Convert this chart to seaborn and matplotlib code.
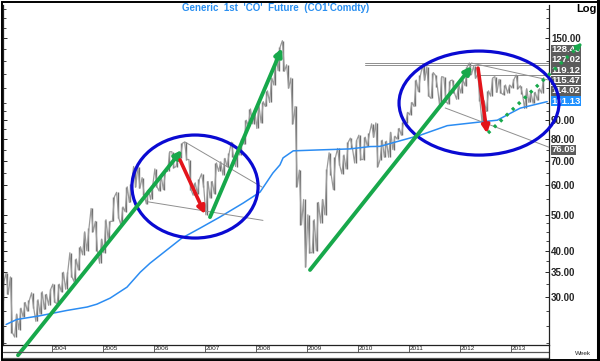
import numpy as np
import pandas as pd
import matplotlib
matplotlib.use("Agg")
import matplotlib.pyplot as plt
import seaborn as sns
from matplotlib.patches import Ellipse, Rectangle
from matplotlib.lines import Line2D
from matplotlib.ticker import FixedLocator, FuncFormatter, NullFormatter
import matplotlib.transforms as mtrans

# ---------------- data ----------------
title = "Generic  1st  'CO'  Future  (CO1'Comdty)"
first_year = 2003
# monthly high / low, Jan 2003 .. Aug 2013
monthly_high = [
    33.0, 34.8, 34.0, 27.0, 28.0, 29.0, 29.5, 30.8, 29.5, 31.0, 30.5, 31.5,   # 2003
    32.5, 32.5, 35.0, 35.0, 39.5, 38.0, 41.0, 45.0, 46.0, 52.0, 48.0, 43.0,   # 2004
    48.5, 48.0, 56.0, 57.5, 52.5, 59.5, 60.5, 67.5, 67.5, 63.0, 58.5, 60.0,   # 2005
    66.5, 63.5, 65.5, 74.0, 74.0, 73.0, 78.0, 78.6, 70.5, 61.0, 62.5, 64.5,   # 2006
    61.5, 61.5, 69.0, 69.5, 71.0, 73.5, 78.5, 75.0, 80.0, 90.0, 96.5, 96.0,   # 2007
    98.5, 101.0, 108.0, 117.0, 136.0, 142.0, 147.5, 127.0, 117.0, 98.0, 66.0, 55.0,  # 2008
    50.0, 48.5, 54.0, 55.0, 66.5, 73.5, 71.5, 75.5, 72.5, 78.5, 80.5, 79.5,   # 2009
    82.0, 81.0, 83.0, 88.0, 88.5, 79.5, 79.0, 83.5, 81.5, 85.5, 89.0, 94.5,   # 2010
    100.5, 115.5, 119.0, 127.0, 125.5, 121.0, 119.0, 118.0, 117.5, 115.0, 115.5, 112.5,  # 2011
    115.5, 125.5, 128.4, 126.0, 120.0, 101.5, 108.0, 117.0, 118.0, 116.0, 112.0, 112.0,  # 2012
    116.0, 119.2, 111.5, 109.5, 106.5, 107.0, 109.5, 117.3,                     # 2013
]
monthly_low = [
    29.5, 30.5, 24.0, 23.4, 24.5, 26.5, 27.5, 28.0, 25.8, 27.0, 27.8, 28.5,
    29.0, 28.8, 31.0, 31.5, 34.0, 33.0, 35.5, 39.0, 40.0, 45.0, 40.0, 37.0,
    39.5, 43.0, 48.0, 49.0, 47.0, 51.0, 54.0, 59.5, 59.0, 56.5, 53.5, 55.0,
    59.5, 58.0, 58.5, 65.5, 67.0, 67.5, 71.0, 70.5, 58.5, 56.5, 57.0, 59.5,
    50.0, 55.5, 57.0, 65.5, 64.0, 67.5, 71.5, 67.5, 72.5, 77.5, 87.0, 88.0,
    85.5, 88.5, 98.0, 100.5, 112.0, 122.5, 122.0, 110.0, 88.0, 59.5, 47.0, 36.2,
    39.5, 39.5, 40.0, 47.5, 50.0, 64.0, 58.5, 68.0, 64.5, 66.5, 75.5, 69.0,
    70.5, 70.5, 76.5, 81.0, 67.5, 70.5, 71.5, 71.5, 75.0, 80.0, 82.0, 88.5,
    93.0, 98.0, 107.5, 115.5, 104.5, 103.0, 110.5, 98.5, 101.0, 99.5, 106.5, 102.5,
    106.5, 111.5, 119.5, 117.0, 101.5, 88.5, 95.0, 104.5, 107.0, 106.5, 105.5, 106.5,
    110.0, 109.5, 106.0, 96.8, 100.5, 100.0, 102.0, 106.5,
]
# moving average (blue)
ma_years = [2003.10, 2003.31, 2003.76, 2004.29, 2004.69, 2004.88, 2005.14, 2005.47,
            2005.73, 2005.92, 2006.55, 2006.90, 2007.29, 2007.75, 2008.08, 2008.33,
            2008.47, 2008.53, 2008.73, 2009.20, 2009.84, 2010.24, 2010.43, 2011.22,
            2011.75, 2012.39, 2012.73, 2013.18, 2013.71]
ma_values = [25.3, 26.1, 26.7, 27.6, 28.2, 28.7, 29.8, 31.9,
             35.0, 37.0, 43.3, 46.0, 49.3, 53.8, 57.6, 64.8,
             68.2, 71.2, 74.4, 74.8, 75.3, 76.4, 76.5, 82.0,
             87.0, 89.0, 90.0, 97.0, 101.0]
year_labels = list(range(2004, 2014))
axis_ticks = [30, 35, 40, 50, 60, 70, 80, 90, 150]
marker_values = [128.40, 127.02, 119.12, 115.47, 114.02, 101.13, 76.09]
marker_kind = ["lvl", "lvl", "lvl", "lvl", "lvl", "ma", "lvl"]

# annotations: (year, price) pairs
green_arrows = [((2003.333, 20.9), (2006.549, 74.8)),
                ((2007.098, 49.3), (2008.510, 140.9)),
                ((2009.059, 35.5), (2012.235, 126.0))]
red_arrows = [((2006.51, 70.3), (2007.00, 50.2)),
              ((2012.353, 124.4), (2012.53, 82.9))]
dotted_arrow = ((2012.549, 83.1), (2014.392, 145.4))
circles = [((2006.804, 59.6), 0.231, 0.303),
           ((2012.373, 100.1), 0.293, 0.306)]
grey_lines = [((2006.608, 78.6), (2008.118, 59.4)),
              ((2005.882, 54.2), (2008.137, 48.3)),
              ((2010.14, 128.40), (2013.745, 128.40)),
              ((2010.14, 127.02), (2013.745, 127.02)),
              ((2012.39, 119.12), (2013.745, 119.12)),
              ((2012.22, 128.40), (2013.745, 115.47)),
              ((2011.71, 97.1), (2013.745, 76.09))]

x_range = (2003.039, 2013.745)
y_range = (22.27, 184.1)

# ---------------- style ----------------
sns.set_style("white")
plt.rcParams["font.family"] = ["Liberation Sans", "DejaVu Sans"]

GREEN = "#17a84b"
RED = "#e3141b"
ELL = "#0a0ad2"
MA = "#2b8cf2"
GREY = "#8f8f8f"

fig = plt.figure(figsize=(6.0, 3.61), dpi=100)
W, H = 600.0, 361.0
ax = fig.add_axes([3 / W, 16 / H, 546 / W, 340 / H])

# price zigzag through monthly lows/highs
n = len(monthly_high)
t, v = [], []
for i in range(n):
    h, l = monthly_high[i], monthly_low[i]
    mid = (h + l) / 2
    nxt = (monthly_high[i + 1] + monthly_low[i + 1]) / 2 if i + 1 < n else mid
    a, b = (l, h) if nxt >= mid else (h, l)
    t += [first_year + (i + 0.2) / 12, first_year + (i + 0.7) / 12]
    v += [a, b]
price_df = pd.DataFrame({"t": t, "price": v})
bars = pd.DataFrame({"t": [first_year + (i + 0.45) / 12 for i in range(n)],
                     "hi": monthly_high, "lo": monthly_low})
ax.vlines(bars["t"], bars["lo"], bars["hi"], color="#6e6e6e", lw=1.0, zorder=2)
sns.lineplot(data=price_df, x="t", y="price", sort=False, estimator=None,
             color="#9a9a9a", lw=0.9, ax=ax, zorder=2)
ma_df = pd.DataFrame({"t": ma_years, "ma": ma_values})
sns.lineplot(data=ma_df, x="t", y="ma", sort=False, estimator=None,
             color=MA, lw=1.1, ax=ax, zorder=3)

ax.set_yscale("log")
ax.set_xlim(*x_range)
ax.set_ylim(*y_range)
ax.set_xlabel("")
ax.set_ylabel("")
ax.set_xticks([])

# y axis on right
ax.yaxis.tick_right()
ax.yaxis.set_major_locator(FixedLocator(axis_ticks))
ax.yaxis.set_major_formatter(FuncFormatter(lambda val, pos: f"{val:.2f}"))
minor = [p for p in np.arange(22.5, 50, 2.5)] + [p for p in np.arange(55, 100, 5)] + \
        [p for p in np.arange(100, 185, 10)]
ax.yaxis.set_minor_locator(FixedLocator(minor))
ax.yaxis.set_minor_formatter(NullFormatter())
ax.tick_params(axis="y", which="major", direction="in", length=3, width=0.7,
               pad=1.5, labelsize=7, left=True, right=True, labelleft=False,
               labelright=True)
ax.tick_params(axis="y", which="minor", direction="in", length=2, width=0.6,
               left=True, right=True)
for lab in ax.get_yticklabels():
    lab.set_fontweight("bold")
for s in ["left", "right", "bottom"]:
    ax.spines[s].set_visible(True)
    ax.spines[s].set_color("#222222")
    ax.spines[s].set_linewidth(0.9)
ax.spines["top"].set_visible(False)

# grey trend / level lines
for (x0, y0), (x1, y1) in grey_lines:
    ax.plot([x0, x1], [y0, y1], color=GREY, lw=0.7, zorder=3)

fig.canvas.draw()
data2axes = ax.transData + ax.transAxes.inverted()

# ellipses
for (cx, cy), w, h in circles:
    c = data2axes.transform((cx, cy))
    e = Ellipse(c, w, h, transform=ax.transAxes, fill=False, ec=ELL, lw=2.3,
                clip_on=False, zorder=5)
    ax.add_patch(e)

# arrows
for (s, e) in green_arrows:
    ax.annotate("", xy=e, xytext=s, annotation_clip=False,
                arrowprops=dict(arrowstyle="-|>", color=GREEN, lw=2.8,
                                mutation_scale=11, shrinkA=0, shrinkB=0),
                zorder=6)
for (s, e) in red_arrows:
    ax.annotate("", xy=e, xytext=s, annotation_clip=False,
                arrowprops=dict(arrowstyle="-|>", color=RED, lw=2.6,
                                mutation_scale=11, shrinkA=0, shrinkB=0),
                zorder=6)
(ds, de) = dotted_arrow
ax.plot([ds[0], de[0]], [ds[1], de[1]], color=GREEN, lw=2.4,
        ls=(0, (0.9, 1.6)), clip_on=False, zorder=6)
pre = (ds[0] + 0.93 * (de[0] - ds[0]), np.exp(np.log(ds[1]) + 0.93 * (np.log(de[1]) - np.log(ds[1]))))
ax.annotate("", xy=de, xytext=pre, annotation_clip=False,
            arrowprops=dict(arrowstyle="-|>", color=GREEN, lw=1.5,
                            mutation_scale=10, shrinkA=0, shrinkB=0), zorder=7)

# value boxes on the right axis (spread to avoid overlaps)
GAP = 0.064


def spread_log(values, gap):
    items = sorted([(np.log(val), val) for val in values], reverse=True)
    groups = [[it] for it in items]
    changed = True
    while changed:
        changed = False
        out = []
        for g in groups:
            if out:
                p = out[-1]
                pm = np.mean([q[0] for q in p])
                gm = np.mean([q[0] for q in g])
                if (pm - (len(p) - 1) / 2 * gap) - (gm + (len(g) - 1) / 2 * gap) < gap:
                    out[-1] = p + g
                    changed = True
                    continue
            out.append(g)
        groups = out
    pos = {}
    for g in groups:
        m = np.mean([q[0] for q in g])
        k = len(g)
        for j, q in enumerate(g):
            lp = m + ((k - 1) / 2 - j) * gap
            if k > 1:
                lp += 0.015
            else:
                # keep clear of the plain axis labels
                for tk in axis_ticks:
                    d = lp - np.log(tk)
                    if abs(d) < gap * 1.02:
                        lp = np.log(tk) + np.sign(d) * gap * 1.02
            pos[q[1]] = np.exp(lp)
    return pos


positions = spread_log(marker_values, GAP)
blend = mtrans.blended_transform_factory(ax.transAxes, ax.transData)
for val, kind in zip(marker_values, marker_kind):
    fc = "#1e90ff" if kind == "ma" else "#5c5c5c"
    ax.text(1.0 + 2.5 / 546, positions[val], f"{val:.2f}", transform=blend,
            ha="left", va="center", fontsize=6.8, fontweight="bold", color="white",
            bbox=dict(boxstyle="square,pad=0.05", fc=fc, ec="none"),
            clip_on=False, zorder=4)

# x axis strip with year labels
bx = mtrans.blended_transform_factory(ax.transData, ax.transAxes)
strip_h = 7 / 340
for yr in year_labels:
    ax.plot([yr, yr], [0, -strip_h], color="#444444", lw=0.6, transform=bx,
            clip_on=False)
    ax.text(yr + 0.02, -strip_h / 2, str(yr), transform=bx, fontsize=4.6,
            ha="left", va="center", color="#222222", clip_on=False)

for ypix, col, lw in [(352, "#555555", 0.9), (357.5, "#555555", 0.9)]:
    fig.lines.append(Line2D([3 / W, 549 / W], [1 - ypix / H, 1 - ypix / H],
                            transform=fig.transFigure, color=col, lw=lw))
fig.lines.append(Line2D([549 / W, 549 / W], [1 - 359 / H, 1 - 345 / H],
                        transform=fig.transFigure, color="#222222", lw=0.9))

# texts
fig.text(276 / W, 1 - 8 / H, title, ha="center", va="center", fontsize=7,
         fontweight="bold", color="#2a8ff0")
fig.text(586 / W, 1 - 9 / H, "Log", ha="center", va="center", fontsize=8,
         fontweight="bold", color="black")
fig.text(583 / W, 1 - 353.5 / H, "Week", ha="center", va="center", fontsize=4.6,
         color="#222222")

# outer frame
fig.patches.append(Rectangle((1.5 / W, 1.5 / H), 596 / W, 357.5 / H,
                             transform=fig.transFigure, fill=False, ec="black",
                             lw=1.4))
fig.lines.append(Line2D([597.5 / W, 597.5 / W], [0, 1], transform=fig.transFigure,
                        color="black", lw=2.2))

fig.savefig("out.png", dpi=100, facecolor="white")
